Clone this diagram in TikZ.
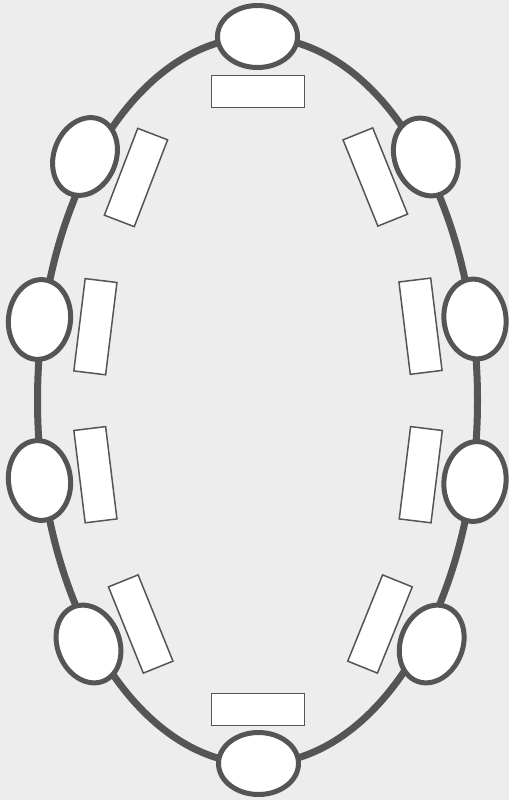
\documentclass[tikz,border=0pt]{standalone}
\usetikzlibrary{shapes.geometric}
\definecolor{bg}{HTML}{EDEDED}
\definecolor{ink}{HTML}{555555}
\begin{document}
\begin{tikzpicture}[x=1pt,y=-1pt,
  seat/.style={ellipse,draw=ink,fill=white,line width=5pt,minimum width=80pt,minimum height=62pt,inner sep=0pt},
  table/.style={rectangle,draw=ink,fill=white,line width=1.5pt,minimum width=93pt,minimum height=32pt,inner sep=0pt}]
\fill[bg] (0,0) rectangle (509,800);
\useasboundingbox (0,0) rectangle (509,800);
\draw[ink,line width=7pt] (257.5,400.5) ellipse [x radius=220pt, y radius=363.5pt];
% seats
\node[seat,rotate=0]   (s1)  at (257.5,36.5) {};
\node[seat,rotate=68]  (s2)  at (85,156.5) {};
\node[seat,rotate=83]  (s3)  at (39.5,319.5) {};
\node[seat,rotate=97]  (s4)  at (39.5,480.5) {};
\node[seat,rotate=112] (s5)  at (88.5,644) {};
\node[seat,rotate=0]   (s6)  at (258.5,763.5) {};
\node[seat,rotate=68]  (s7)  at (431.7,644) {};
\node[seat,rotate=83]  (s8)  at (475,481.5) {};
\node[seat,rotate=97]  (s9)  at (475,319) {};
\node[seat,rotate=112] (s10) at (425.8,157) {};
% tables
\node[table,rotate=0]   (t1)  at (258,91.5) {};
\node[table,rotate=69]  (t2)  at (136,177.5) {};
\node[table,rotate=83]  (t3)  at (95.4,326.7) {};
\node[table,rotate=97]  (t4)  at (95.4,474.7) {};
\node[table,rotate=112] (t5)  at (140.7,624) {};
\node[table,rotate=0]   (t6)  at (257.8,709.3) {};
\node[table,rotate=68]  (t7)  at (380,624) {};
\node[table,rotate=83]  (t8)  at (420.8,474.7) {};
\node[table,rotate=97]  (t9)  at (420.5,326.2) {};
\node[table,rotate=112] (t10) at (375.3,177) {};
\end{tikzpicture}
\end{document}
